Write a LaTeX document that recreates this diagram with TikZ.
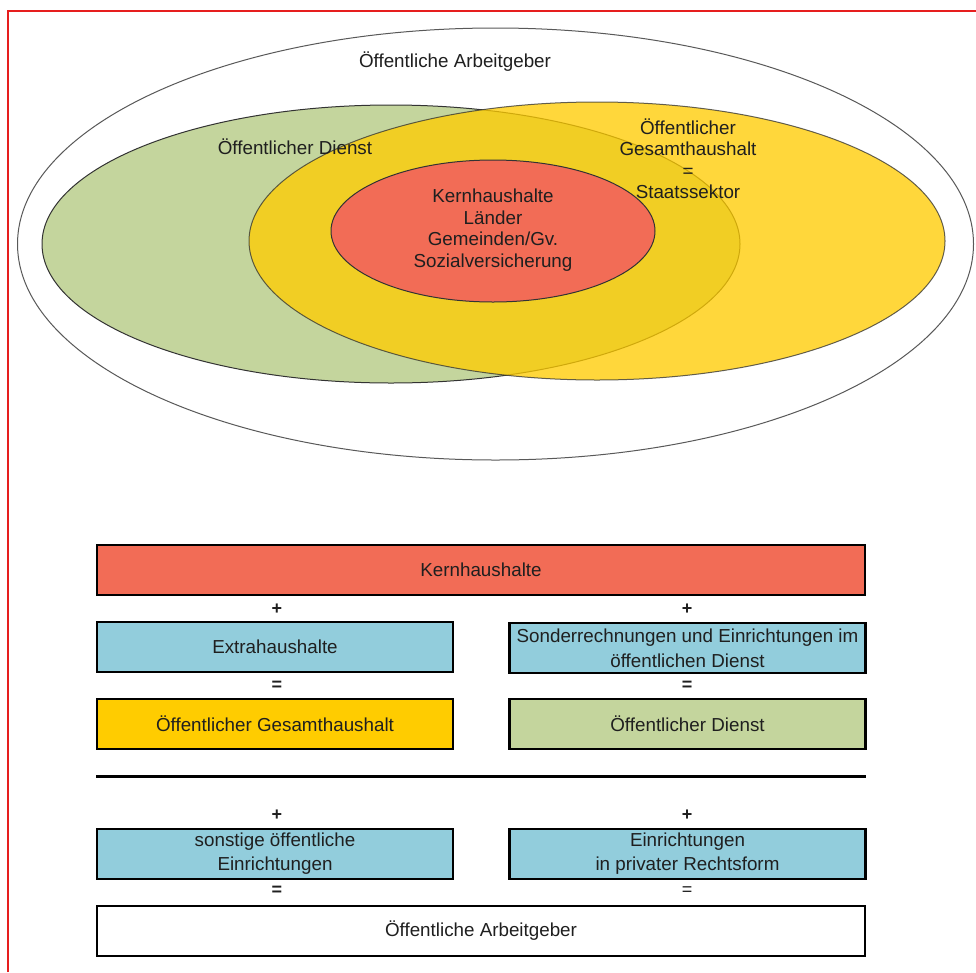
\documentclass[tikz,border=0pt]{standalone}
\usepackage{fontspec}
\setmainfont{Liberation Sans}
\begin{document}
\begin{tikzpicture}[x=1pt,y=-1pt,
  every node/.style={font=\fontsize{18.8}{21.5}\selectfont, text=black!88},
  ell/.style={draw=black!80, line width=1pt},
  box/.style={draw=black, line width=2.6pt, minimum height=50pt, inner sep=0pt, align=center},
  wide/.style={box, minimum width=768pt},
  half/.style={box, minimum width=356pt},
  op/.style={font=\bfseries\fontsize{18}{18}\selectfont, inner sep=0pt},
  opthin/.style={font=\fontsize{18}{18}\selectfont, inner sep=0pt}]
\definecolor{cgreen}{RGB}{196,213,157}
\definecolor{cyellow}{RGB}{255,204,0}
\definecolor{cred}{RGB}{242,108,86}
\definecolor{cblue}{RGB}{146,205,220}
\definecolor{cframe}{RGB}{230,30,30}
\useasboundingbox (0,0) rectangle (976,972);
\fill[white] (0,0) rectangle (976,972);
% red frame
\draw[cframe, line width=1.2pt] (8,972) -- (8,11) -- (976,11);
% ellipses
\draw[ell, fill=white, draw=black!65] (495.5,244) ellipse [x radius=478, y radius=216];
\draw[ell, fill=cgreen] (391,244) ellipse [x radius=349, y radius=139];
\draw[ell, fill=cyellow, opacity=0.77] (597,241) ellipse [x radius=348, y radius=139];
\draw[ell, fill=cred] (493,231) ellipse [x radius=162, y radius=71];
% ellipse labels
\node (tArb) at (455,62) {Öffentliche Arbeitgeber};
\node (tDienst) at (295,147) {Öffentlicher Dienst};
\node[align=center] (tStaat) at (688,158.5) {Öffentlicher\\Gesamthaushalt\\=\\Staatssektor};
\node[align=center] (tKern) at (493,230) {Kernhaushalte\\Länder\\Gemeinden/Gv.\\Sozialversicherung};
% boxes
\node[wide, fill=cred] (kern) at (481,570) {Kernhaushalte};
\node[op] (p1) at (277,609) {+};
\node[op] (p2) at (687,609) {+};
\node[half, fill=cblue] (extra) at (275,647) {Extrahaushalte};
\node[half, fill=cblue, font=\fontsize{18.8}{25}\selectfont] (sonder) at (687.5,648) {Sonderrechnungen und Einrichtungen im\\öffentlichen Dienst};
\node[op] (e1) at (277,686) {=};
\node[op] (e2) at (687,686) {=};
\node[half, fill=cyellow] (gesamt) at (275,724) {Öffentlicher Gesamthaushalt};
\node[half, fill=cgreen] (dienst) at (687.5,724) {Öffentlicher Dienst};
\coordinate (lL) at (96,776);
\coordinate (lR) at (866,776);
\draw[line width=3pt] (lL) -- (lR);
\node[op] (p3) at (277,815) {+};
\node[op] (p4) at (687,815) {+};
\node[half, fill=cblue, font=\fontsize{18.8}{24}\selectfont] (sonst) at (275,854) {sonstige öffentliche\\Einrichtungen};
\node[half, fill=cblue, font=\fontsize{18.8}{24}\selectfont] (einr) at (687.5,854) {Einrichtungen\\in privater Rechtsform};
\node[op] (e3) at (277,891) {=};
\node[opthin] (e4) at (687,891) {=};
\node[wide, fill=white] (arb) at (481,931) {Öffentliche Arbeitgeber};
\end{tikzpicture}
\end{document}
